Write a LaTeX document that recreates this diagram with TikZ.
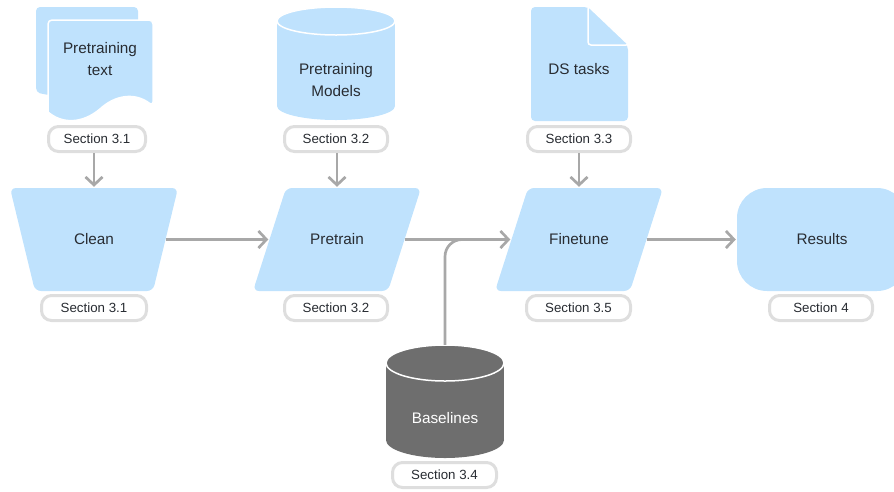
\documentclass[tikz,border=0pt]{standalone}
\usepackage{fontspec}
\setmainfont{Liberation Sans}
\usetikzlibrary{arrows.meta,calc}
\definecolor{blu}{RGB}{191,226,253}
\definecolor{conncol}{RGB}{168,168,168}
\definecolor{lbord}{RGB}{222,222,222}
\definecolor{dgray}{RGB}{110,110,110}
\definecolor{txt}{RGB}{40,44,50}
\begin{document}
\begin{tikzpicture}[x=1pt,y=-1pt,
  sect/.style={draw=lbord, line width=3pt, fill=white, rounded corners=10pt, minimum width=103pt, minimum height=25pt, inner sep=0pt, text=txt, font=\fontsize{13.3}{15}\selectfont},
  body/.style={inner sep=0pt, text=txt, font=\fontsize{15.3}{22}\selectfont, align=center},
  conn/.style={draw=conncol, line width=2.7pt, -{Straight Barb[length=8pt,width=17pt]}, shorten >=1pt},
  connline/.style={draw=conncol, line width=2.7pt},
]
\useasboundingbox (0,0) rectangle (894,491);

% ---------- Pretraining text (multi-document)
\fill[blu, rounded corners=4pt] (36,92) .. controls (42,94) .. (50,95) -- (138,90) -- (138,7) -- (36,7) -- cycle;
\filldraw[fill=blu, draw=white, line width=1.5pt, rounded corners=4pt]
  (100,20) -- (153,20) -- (153,106) [sharp corners] .. controls (135,92) and (115,95) .. (100,109)
  .. controls (82,124) and (62,124) .. (48,112) [rounded corners=4pt] -- (48,20) -- cycle;
\node[body] (ptext) at (100,59.5) {Pretraining\\text};

% ---------- Pretraining Models (cylinder)
\fill[blu] (277,21) rectangle (395,106);
\fill[blu] (336,106) ellipse [x radius=59pt, y radius=14pt];
\filldraw[fill=blu, draw=white, line width=1.5pt] (336,21) ellipse [x radius=59pt, y radius=14pt];
\node[body] (pmod) at (336,80.5) {Pretraining\\Models};

% ---------- DS tasks (document with folded corner)
\fill[blu, rounded corners=4pt] (560,7) -- (588,7) -- (628,46) -- (628,121) -- (531,121) -- (531,7) -- cycle;
\filldraw[fill=blu, draw=white, line width=1.5pt, rounded corners=3pt] (588,6) -- (588,45) -- (629,45) -- cycle;
\node[body] (ds) at (579,69) {DS tasks};

% ---------- top labels
\node[sect, minimum width=97pt] (s31top) at (97,139) {Section 3.1};
\node[sect] (s32top) at (336,139) {Section 3.2};
\node[sect] (s33top) at (579,139) {Section 3.3};

% ---------- main row shapes
\fill[blu, rounded corners=6pt] (94,188) -- (178,188) -- (153,291) -- (35,291) -- (10,188) -- cycle;
\node[body, minimum width=143pt, minimum height=103pt] (clean) at (94,239.5) {Clean};

\fill[blu, rounded corners=6pt] (337,188) -- (421,188) -- (388,291) -- (253,291) -- (286,188) -- cycle;
\node[body, minimum width=135pt, minimum height=103pt] (pre) at (337,239.5) {Pretrain};

\fill[blu, rounded corners=6pt] (579,188) -- (663,188) -- (630,291) -- (495,291) -- (528,188) -- cycle;
\node[body, minimum width=135pt, minimum height=103pt] (fin) at (579,239.5) {Finetune};

\node[body, fill=blu, rounded corners=30pt, minimum width=170pt, minimum height=103pt] (res) at (822,239.5) {Results};

% ---------- lower labels
\node[sect, minimum width=105pt] (s31) at (94,308) {Section 3.1};
\node[sect] (s32) at (336,308) {Section 3.2};
\node[sect, minimum width=104pt] (s35) at (578.5,308) {Section 3.5};
\node[sect] (s4) at (821,308) {Section 4};

% ---------- Baselines (dark cylinder)
\node[minimum width=118pt, minimum height=113pt, inner sep=0pt] (bas) at (445,401.5) {};
\fill[dgray] (386,363) rectangle (504,440);
\fill[dgray] (445,440) ellipse [x radius=59pt, y radius=18pt];
\filldraw[fill=dgray, draw=white, line width=1.5pt] (445,363) ellipse [x radius=59pt, y radius=18pt];
\node[body, text=white] (basT) at (445,418) {Baselines};
\node[sect, minimum width=104pt] (s34) at (444.5,475) {Section 3.4};

% ---------- connectors
\draw[conn] (s31top.south -| clean.north) -- (clean.north);
\draw[conn] (s32top.south -| pre.north) -- (pre.north);
\draw[conn] (s33top.south -| fin.north) -- (fin.north);
\draw[conn] (clean.east) -- (pre.west);
\draw[connline, rounded corners=17pt, shorten >=6pt] (bas.north) |- (fin.west);
\draw[conn] (pre.east) -- (fin.west);
\draw[conn] (fin.east) -- (res.west);
\end{tikzpicture}
\end{document}
